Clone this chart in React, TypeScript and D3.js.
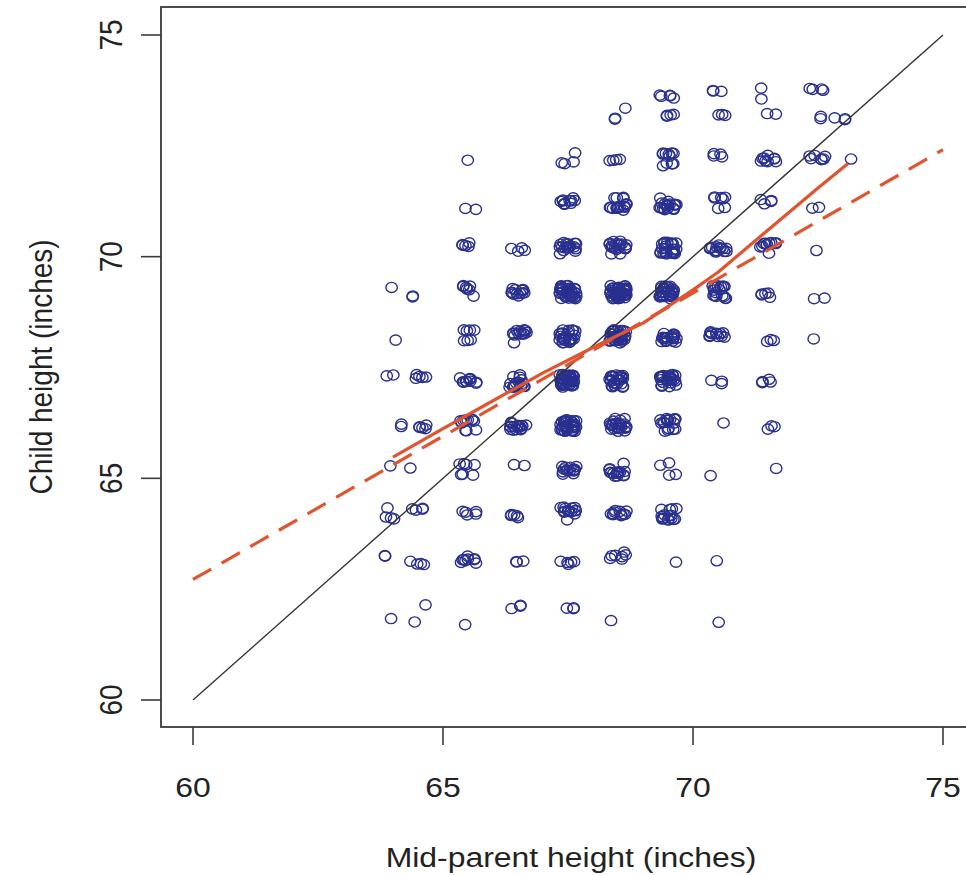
import React from "react";
import * as d3 from "d3";

// Galton (1886) mid-parent vs adult child heights: counts per cell
const parentHeights = [64, 64.5, 65.5, 66.5, 67.5, 68.5, 69.5, 70.5, 71.5, 72.5, 73];
const childHeights = [61.7, 62.2, 63.2, 64.2, 65.2, 66.2, 67.2, 68.2, 69.2, 70.2, 71.2, 72.2, 73.2, 73.7];
const counts64 = [1, 0, 2, 4, 1, 2, 2, 1, 1, 0, 0, 0, 0, 0];
const counts64_5 = [1, 1, 4, 4, 1, 5, 5, 0, 2, 0, 0, 0, 0, 0];
const counts65_5 = [1, 0, 9, 5, 7, 11, 11, 7, 7, 5, 2, 1, 0, 0];
const counts66_5 = [0, 3, 3, 5, 2, 17, 17, 14, 13, 4, 0, 0, 0, 0];
const counts67_5 = [0, 3, 5, 14, 15, 36, 38, 28, 38, 19, 11, 4, 0, 0];
const counts68_5 = [1, 0, 7, 11, 16, 25, 31, 34, 48, 21, 18, 4, 3, 0];
const counts69_5 = [0, 0, 1, 16, 4, 17, 27, 20, 33, 25, 20, 11, 4, 5];
const counts70_5 = [1, 0, 1, 0, 1, 1, 3, 12, 18, 14, 7, 4, 3, 3];
const counts71_5 = [0, 0, 0, 0, 1, 3, 4, 3, 5, 10, 4, 9, 2, 2];
const counts72_5 = [0, 0, 0, 0, 0, 0, 0, 1, 2, 1, 2, 7, 2, 4];
const counts73 = [0, 0, 0, 0, 0, 0, 0, 0, 0, 0, 0, 1, 3, 0];
const countRows = [counts64, counts64_5, counts65_5, counts66_5, counts67_5, counts68_5, counts69_5, counts70_5, counts71_5, counts72_5, counts73];

// Regression line (child on parent), drawn 60..75
const regIntercept = 23.9415;
const regSlope = 0.64629;
const regX = [60, 75];

// Smooth (solid red)
const smoothParent = [64, 65, 66, 67, 68, 69, 70, 70.5, 71.5, 72.5, 73.1];
const smoothChild = [65.48, 66.12, 66.75, 67.38, 67.95, 68.5, 69.25, 69.65, 70.6, 71.55, 72.1];

// Identity line
const identity = [60, 75];

const xTicks = [60, 65, 70, 75];
const yTicks = [60, 65, 70, 75];

const JITTER_X = 0.17;
const JITTER_Y = 0.15;

// Halton radical inverse (deterministic spread for overplotted points)
function halton(i: number, b: number) {
  let f = 1;
  let r = 0;
  while (i > 0) {
    f /= b;
    r += f * (i % b);
    i = Math.floor(i / b);
  }
  return r;
}

export default function App() {
  const x = d3.scaleLinear().domain([60, 75]).range([193, 943]);
  const y = d3.scaleLinear().domain([60, 75]).range([700, 35]);

  const box = { left: 161, top: 7, right: 975, bottom: 727 };

  const pts: { px: number; cy: number }[] = [];
  let g = 0;
  parentHeights.forEach((p, i) => {
    childHeights.forEach((c, j) => {
      const n = countRows[i][j];
      for (let k = 0; k < n; k++) {
        g++;
        const jx = ((halton(k + 1 + (g % 7), 2) + g * 0.137) % 1) * 2 - 1;
        const jy = ((halton(k + 1 + (g % 5), 3) + g * 0.291) % 1) * 2 - 1;
        pts.push({ px: p + jx * JITTER_X, cy: c + jy * JITTER_Y });
      }
    });
  });

  const line = d3
    .line<number[]>()
    .x((d) => x(d[0]))
    .y((d) => y(d[1]));

  const regPath = line(regX.map((v) => [v, regIntercept + regSlope * v]));
  const smoothPath = d3
    .line<number>()
    .x((d) => x(d))
    .y((_, i) => y(smoothChild[i]))(smoothParent);
  const idPath = line(identity.map((v) => [v, v]));

  const font = "'Liberation Sans', Arial, Helvetica, sans-serif";
  const sx = 1.14;

  return (
    <svg
      width={966}
      height={875}
      style={{ position: "absolute", left: 0, top: 0, display: "block", background: "#fff" }}
    >
      <rect x={0} y={0} width={966} height={875} fill="#fff" />
      <g fill="none" stroke="#29308f" strokeWidth={1.4}>
        {pts.map((d, i) => (
          <ellipse key={i} cx={x(d.px)} cy={y(d.cy)} rx={5.7} ry={5.1} />
        ))}
      </g>
      <path d={idPath || ""} stroke="#333" strokeWidth={1.4} fill="none" />
      <path d={regPath || ""} stroke="#e0552f" strokeWidth={3.2} fill="none" strokeDasharray="21 12" />
      <path d={smoothPath || ""} stroke="#e0552f" strokeWidth={3.2} fill="none" strokeLinejoin="round" />

      <rect
        x={box.left}
        y={box.top}
        width={box.right - box.left}
        height={box.bottom - box.top}
        fill="none"
        stroke="#3a3a3a"
        strokeWidth={1.8}
      />
      <g stroke="#3a3a3a" strokeWidth={1.6}>
        {xTicks.map((t) => (
          <line key={t} x1={x(t)} x2={x(t)} y1={box.bottom} y2={box.bottom + 18} />
        ))}
        {yTicks.map((t) => (
          <line key={t} x1={box.left - 20} x2={box.left} y1={y(t)} y2={y(t)} />
        ))}
      </g>
      <g fill="#222" fontFamily={font} fontSize={28}>
        {xTicks.map((t) => (
          <text key={t} transform={`translate(${x(t)},797) scale(${sx},1)`} textAnchor="middle">
            {t}
          </text>
        ))}
        {yTicks.map((t) => (
          <text key={t} transform={`translate(122,${y(t)}) scale(${sx},1) rotate(-90)`} textAnchor="middle">
            {t}
          </text>
        ))}
        <text transform={`translate(${(box.left + 973) / 2 + 4},867) scale(${sx},1)`} textAnchor="middle">
          Mid-parent height (inches)
        </text>
        <text transform={`translate(52,${(box.top + box.bottom) / 2}) scale(${sx},1) rotate(-90)`} textAnchor="middle">
          Child height (inches)
        </text>
      </g>
    </svg>
  );
}
